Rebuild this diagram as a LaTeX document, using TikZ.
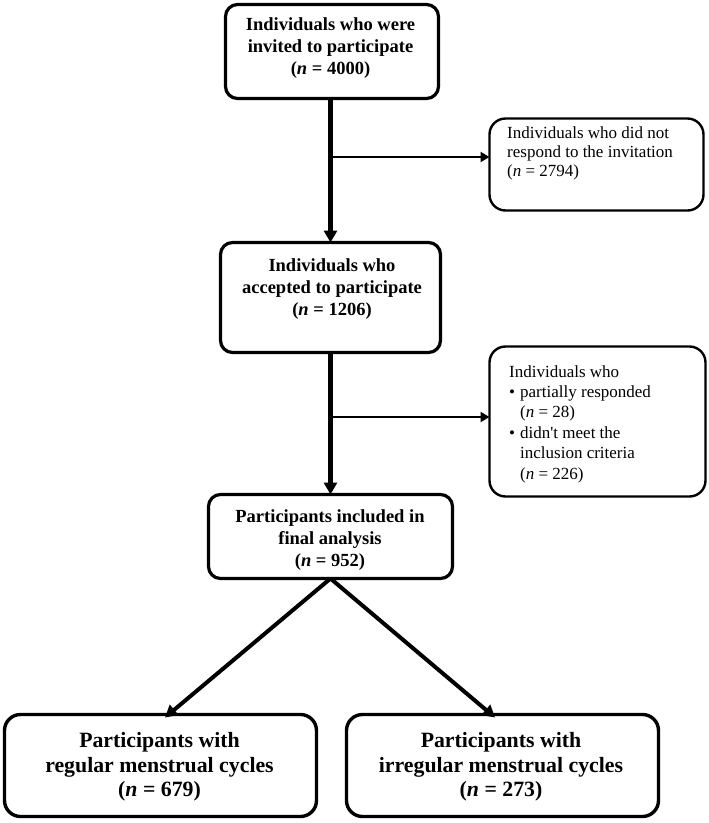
\documentclass[tikz,border=0pt]{standalone}
\usepackage{fontspec}
\setmainfont{Liberation Serif}
\usetikzlibrary{arrows.meta}
\begin{document}
\begin{tikzpicture}[x=1pt,y=-1pt,
  boxbase/.style={draw, inner sep=0pt, outer sep=0pt},
  mainbox/.style={boxbase, line width=3.2pt, rounded corners=12pt},
  sidebox/.style={boxbase, line width=2.4pt, rounded corners=16pt},
  endbox/.style={boxbase, line width=3.4pt, rounded corners=16pt},
  maintext/.style={align=center, inner sep=0pt, font=\fontsize{18.5}{22}\selectfont\bfseries},
  sidetext/.style={align=left, inner sep=0pt, anchor=north west, font=\fontsize{17}{18.8}\selectfont},
  listtext/.style={align=left, inner sep=0pt, anchor=north west, font=\fontsize{17}{20.4}\selectfont},
  endtext/.style={align=center, inner sep=0pt, font=\fontsize{21.8}{24.5}\selectfont\bfseries},
  mainarrow/.style={line width=4.6pt, -{Triangle[length=12pt,width=13pt]}},
  sidearrow/.style={line width=2pt, -{Triangle[length=9pt,width=10pt]}},
  splitarrow/.style={line width=4pt, -{Triangle[length=12pt,width=13pt]}}
]
\useasboundingbox (0,0) rectangle (709,823);

% boxes
\node[mainbox, minimum width=213pt, minimum height=94pt] (b1) at (332,51.5) {};
\node[mainbox, minimum width=220pt, minimum height=110pt] (b2) at (330.5,297.5) {};
\node[mainbox, minimum width=244pt, minimum height=84pt] (b3) at (330.5,536.5) {};
\node[sidebox, minimum width=214pt, minimum height=92pt] (r1) at (596.5,164.5) {};
\node[sidebox, minimum width=216pt, minimum height=150pt] (r2) at (597.5,421.5) {};
\node[endbox, minimum width=312pt, minimum height=102pt] (b4) at (160.5,765.5) {};
\node[endbox, minimum width=312pt, minimum height=102pt] (b5) at (502.5,765.5) {};

% texts
\node[maintext] (b1t) at (330.5,48) {Individuals who were\\invited to participate\\(\textit{n} = 4000)};
\node[maintext] (b2t) at (332,289) {Individuals who\\accepted to participate\\(\textit{n} = 1206)};
\node[maintext] (b3t) at (330,540) {Participants included in\\final analysis\\(\textit{n} = 952)};
\node[sidetext] (r1t) at (507,126.5) {Individuals who did not\\respond to the invitation\\(\textit{n} = 2794)};
\node[listtext] (r2t) at (509,365) {Individuals who\\
\makebox[11pt][l]{\textbullet}partially responded\\
\hspace*{11pt}(\textit{n} = 28)\\
\makebox[11pt][l]{\textbullet}didn\textquotesingle t meet the\\
\hspace*{11pt}inclusion criteria\\
\hspace*{11pt}(\textit{n} = 226)};
\node[endtext] (b4t) at (159.5,767) {Participants with\\regular menstrual cycles\\(\textit{n} = 679)};
\node[endtext] (b5t) at (501,767) {Participants with\\irregular menstrual cycles\\(\textit{n} = 273)};

% connectors
\coordinate (j1) at (330,157);
\coordinate (j2) at (330,417);
\draw[mainarrow] (b2.north |- b1.south) -- (b2.north);
\draw[sidearrow] (j1) -- (j1 -| r1.west);
\draw[mainarrow] (b2.south) -- (b2.south |- b3.north);
\draw[sidearrow] (j2) -- (j2 -| r2.west);
\draw[splitarrow] (b3.south) -- ([xshift=4.5pt,yshift=-3pt]b4.north);
\draw[splitarrow] (b3.south) -- ([xshift=-7.5pt,yshift=-3pt]b5.north);
\end{tikzpicture}
\end{document}
